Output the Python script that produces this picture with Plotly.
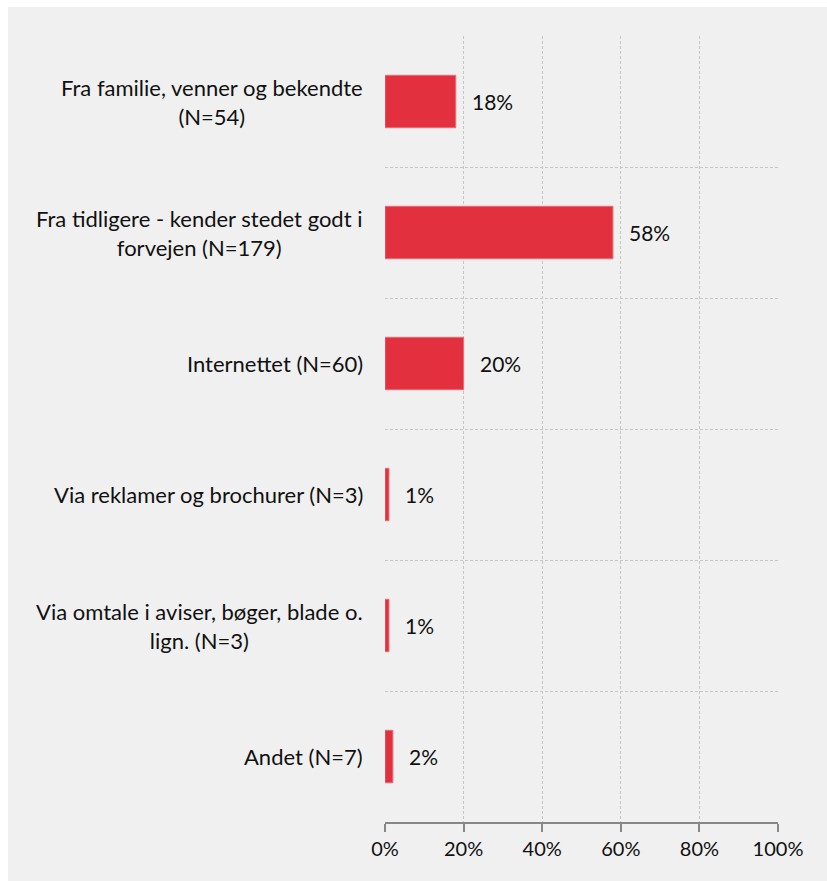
import plotly.graph_objects as go

# Survey answers: where respondents heard about the place
categories = [
    "Fra familie, venner og bekendte<br>(N=54)",
    "Fra tidligere - kender stedet godt i<br>forvejen (N=179)",
    "Internettet (N=60)",
    "Via reklamer og brochurer (N=3)",
    "Via omtale i aviser, bøger, blade o.<br>lign. (N=3)",
    "Andet (N=7)",
]
shares = [18, 58, 20, 1, 1, 2]  # percent
tick_values = [0, 20, 40, 60, 80, 100]
tick_labels = ["0%", "20%", "40%", "60%", "80%", "100%"]

FONT = "Lato"
BG = "#f0f0f0"
BAR = "#e3303e"
GRID = "#c6c6c6"
AXIS = "#878787"
TEXT = "#111111"

keys = [f"c{i}" for i in range(len(categories))]

fig = go.Figure(
    go.Bar(
        x=shares,
        y=keys,
        orientation="h",
        width=0.4,
        marker=dict(color=BAR, line=dict(color="#ea6a74", width=1)),
        hoverinfo="skip",
    )
)

# Category labels, centered block to the left of the axis
for k, label in zip(keys, categories):
    fig.add_annotation(
        x=0, xref="paper", y=k, yref="y",
        text=label, showarrow=False,
        xanchor="right", yanchor="middle", align="center",
        xshift=-20,
        font=dict(family=FONT, size=22, color=TEXT),
    )

# Value labels beside each bar
for k, v in zip(keys, shares):
    fig.add_annotation(
        x=v, xref="x", y=k, yref="y",
        text=f"{v}%", showarrow=False,
        xanchor="left", yanchor="middle",
        xshift=14,
        font=dict(family=FONT, size=21, color=TEXT),
    )

# Light gray panel with thin white strip on top and left
L, T, W, H = 385, 36, 393, 786
fig.add_shape(
    type="rect", xref="paper", yref="paper", layer="below",
    x0=(8 - L) / W, x1=(827 - L) / W,
    y0=(T + H - 881) / H, y1=(T + H - 7) / H,
    fillcolor=BG, line=dict(width=0),
)

fig.update_layout(
    width=827, height=881,
    margin=dict(l=L, r=827 - L - W, t=T, b=881 - T - H),
    paper_bgcolor="white",
    plot_bgcolor=BG,
    showlegend=False,
    bargap=0.6,
    xaxis=dict(
        range=[0, 100],
        tickvals=tick_values,
        ticktext=tick_labels,
        showgrid=True, gridcolor=GRID, griddash="3px,2px", gridwidth=1,
        zeroline=False,
        showline=True, linecolor=AXIS, linewidth=2,
        ticks="outside", ticklen=8, tickwidth=2, tickcolor=AXIS,
        tickfont=dict(family=FONT, size=20, color=TEXT),
        fixedrange=True,
    ),
    yaxis=dict(
        type="category",
        categoryorder="array",
        categoryarray=keys[::-1],
        range=[-0.5, len(keys) - 0.5],
        tickson="boundaries",
        showgrid=True, gridcolor=GRID, griddash="3px,2px", gridwidth=1,
        showticklabels=False,
        ticks="",
        zeroline=False,
        showline=False,
        fixedrange=True,
    ),
)

fig.write_html("out.html")
